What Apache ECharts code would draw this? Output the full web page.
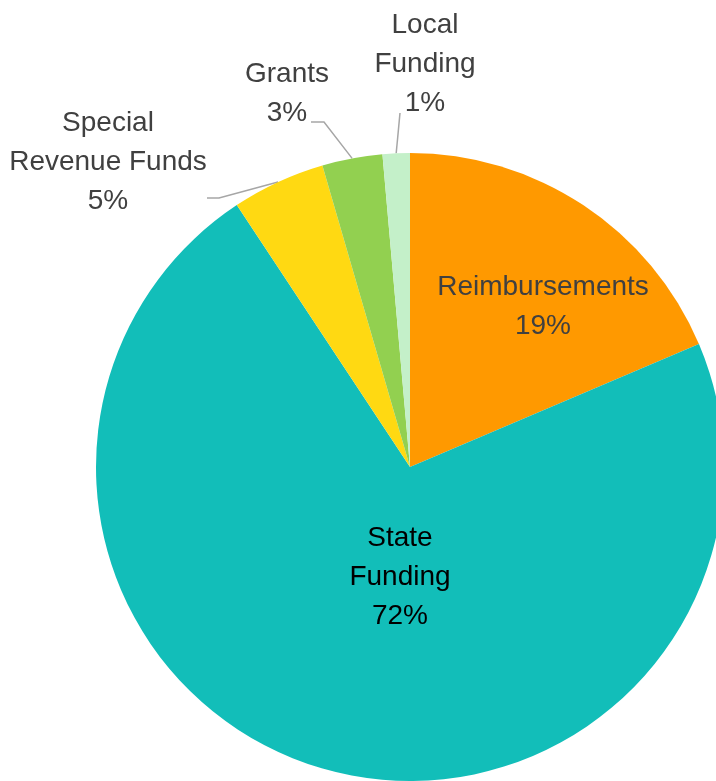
<!DOCTYPE html>
<html>
<head>
<meta charset="utf-8">
<script src="https://cdn.jsdelivr.net/npm/echarts@6/dist/echarts.min.js"></script>
<style>
  html, body { margin: 0; padding: 0; background: #ffffff; }
  #chart { width: 716px; height: 781px; }
</style>
</head>
<body>
<div id="chart"></div>
<script>
// Funding sources, clockwise from 12 o'clock
const categories = ['Reimbursements', 'State\nFunding', 'Special\nRevenue Funds', 'Grants', 'Local\nFunding'];
const shares = [18.6, 72.1, 4.8, 3.1, 1.4];
const sliceColors = ['#FF9900', '#12BEB9', '#FFD912', '#92D050', '#C4F0C9'];

const FONT = '"Liberation Sans", Arial, sans-serif';
const total = shares.reduce((a, b) => a + b, 0);

// Label anchor (centre of the text block) and the elbow of the leader line,
// given relative to that anchor. Slices without an elbow keep their label inside.
const labelPlacement = [
  { x: 543, y: 307 },
  { x: 400, y: 577 },
  { x: 108, y: 162, elbow: [[111, 36], [99, 36]] },
  { x: 287, y: 94,  elbow: [[37, 28], [24, 28]] },
  { x: 425, y: 64,  elbow: [[-25, 49], [-25, 49]] }
];

const insideLabel = (color) => ({
  show: true, position: 'inside', color: color,
  fontFamily: FONT, fontSize: 28, lineHeight: 39, align: 'center'
});
const outsideLabel = {
  show: true, position: 'outside', color: '#404040',
  fontFamily: FONT, fontSize: 28, lineHeight: 39, align: 'center'
};

const data = categories.map((name, i) => {
  const item = { name: name, value: shares[i], itemStyle: { color: sliceColors[i] } };
  if (labelPlacement[i].elbow) {
    item.label = outsideLabel;
    item.labelLine = { show: true, lineStyle: { color: '#A6A6A6', width: 1.5 } };
  } else {
    item.label = insideLabel(i === 1 ? '#000000' : '#404040');
    item.labelLine = { show: false };
  }
  return item;
});

const chart = echarts.init(document.getElementById('chart'), null, { renderer: 'canvas' });
chart.setOption({
  animation: false,
  series: [{
    type: 'pie',
    center: [410, 467],
    radius: 314,
    startAngle: 90,
    clockwise: true,
    avoidLabelOverlap: false,
    label: {
      formatter: (p) => p.name + '\n' + Math.round(p.value / total * 100) + '%'
    },
    labelLayout: (params) => {
      const place = labelPlacement[params.dataIndex];
      const out = { x: place.x, y: place.y, align: 'center', verticalAlign: 'middle' };
      if (place.elbow && params.labelLinePoints) {
        const start = params.labelLinePoints[0];
        out.labelLinePoints = [
          [start[0], start[1]],
          [place.x + place.elbow[0][0], place.y + place.elbow[0][1]],
          [place.x + place.elbow[1][0], place.y + place.elbow[1][1]]
        ];
      }
      return out;
    },
    emphasis: { disabled: true },
    itemStyle: { borderWidth: 0 },
    data: data
  }]
});
</script>
</body>
</html>
